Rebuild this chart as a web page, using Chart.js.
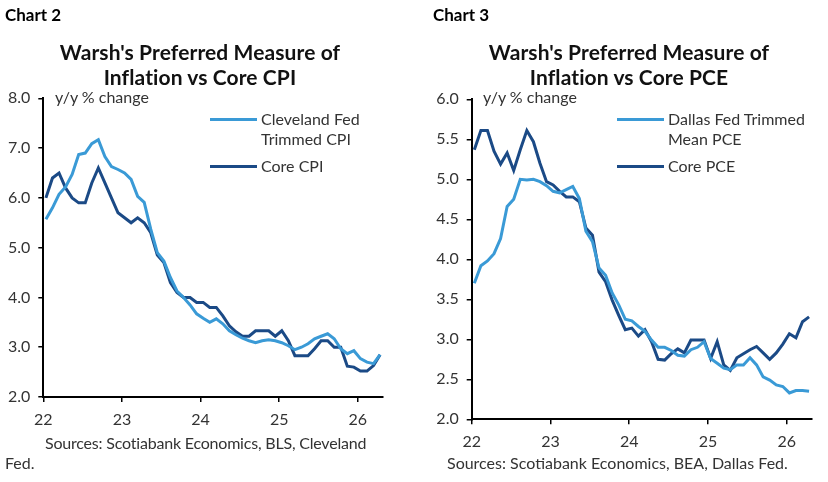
<!DOCTYPE html>
<html><head><meta charset="utf-8">
<script src="https://cdn.jsdelivr.net/npm/chart.js@4"></script>
<style>
html,body{margin:0;padding:0;background:#fff;width:828px;height:482px;overflow:hidden;font-family:Lato,"Noto Sans",sans-serif;color:#262626}
.abs{position:absolute;white-space:nowrap}
.hdr{font-weight:bold;font-size:17px;line-height:17px;color:#000}
.ttl{font-weight:bold;font-size:21px;line-height:25px;text-align:center;color:#111;letter-spacing:0.1px}
.txt{font-size:16px;color:#333}
.leg{font-size:16px;line-height:20px;color:#333}
.sw{position:absolute;height:3px}
canvas{position:absolute;top:0}
</style></head>
<body>
<canvas id="c1" width="414" height="482" style="left:0;width:414px;height:482px"></canvas>
<canvas id="c2" width="414" height="482" style="left:414px;width:414px;height:482px"></canvas>

<div class="abs hdr" style="left:5px;top:6px">Chart 2</div>
<div class="abs hdr" style="left:433px;top:6px">Chart 3</div>
<div class="abs ttl" style="left:0;width:400px;top:39px">Warsh's Preferred Measure of<br>Inflation vs Core CPI</div>
<div class="abs ttl" style="left:429px;width:400px;top:39px">Warsh's Preferred Measure of<br>Inflation vs Core PCE</div>
<div class="abs txt" style="left:55px;top:87px">y/y % change</div>
<div class="abs txt" style="left:483px;top:87px">y/y % change</div>

<div class="sw" style="left:210px;top:118px;width:47px;background:#3a9ad6"></div>
<div class="abs leg" style="left:261px;top:109px">Cleveland Fed<br>Trimmed CPI</div>
<div class="sw" style="left:210px;top:165px;width:47px;background:#1b4a86"></div>
<div class="abs leg" style="left:261px;top:156px">Core CPI</div>

<div class="sw" style="left:617px;top:118px;width:47px;background:#3a9ad6"></div>
<div class="abs leg" style="left:668px;top:109px">Dallas Fed Trimmed<br>Mean PCE</div>
<div class="sw" style="left:617px;top:165px;width:47px;background:#1b4a86"></div>
<div class="abs leg" style="left:668px;top:156px">Core PCE</div>

<div class="abs txt" style="left:45px;top:433px;letter-spacing:-0.2px">Sources: Scotiabank Economics, BLS, Cleveland</div>
<div class="abs txt" style="left:5px;top:453px">Fed.</div>
<div class="abs txt" style="left:447px;top:453px">Sources: Scotiabank Economics, BEA, Dallas Fed.</div>

<script>
// Monthly data, Jan 2022 .. Apr 2026
const clevelandTrimmedCPI = [5.57,5.8,6.07,6.22,6.47,6.87,6.9,7.09,7.17,6.83,6.63,6.57,6.5,6.37,6.03,5.91,5.37,4.9,4.73,4.4,4.13,4.0,3.85,3.67,3.58,3.5,3.57,3.47,3.33,3.25,3.18,3.13,3.09,3.13,3.15,3.13,3.09,3.03,2.95,3.0,3.07,3.17,3.22,3.27,3.17,2.97,2.87,2.93,2.77,2.7,2.67,2.85];
const coreCPI = [6.0,6.4,6.5,6.2,6.0,5.9,5.9,6.3,6.6,6.3,6.0,5.7,5.6,5.5,5.6,5.5,5.3,4.85,4.7,4.3,4.1,4.0,4.0,3.9,3.9,3.8,3.8,3.63,3.43,3.31,3.22,3.22,3.33,3.33,3.33,3.22,3.33,3.13,2.83,2.83,2.83,2.97,3.13,3.13,3.0,3.0,2.62,2.6,2.52,2.52,2.63,2.85];
const dallasTrimmedPCE = [3.7,3.92,3.98,4.07,4.26,4.66,4.75,5.0,4.99,5.0,4.97,4.92,4.85,4.83,4.87,4.91,4.76,4.35,4.22,3.89,3.8,3.58,3.43,3.25,3.23,3.16,3.1,2.99,2.9,2.9,2.86,2.8,2.79,2.87,2.9,2.97,2.76,2.7,2.64,2.62,2.68,2.68,2.77,2.68,2.53,2.49,2.43,2.41,2.33,2.36,2.36,2.35];
const corePCE = [5.37,5.61,5.61,5.35,5.19,5.33,5.11,5.37,5.61,5.47,5.2,4.97,4.93,4.85,4.78,4.78,4.72,4.39,4.3,3.84,3.72,3.49,3.3,3.12,3.14,3.04,3.12,2.97,2.75,2.74,2.82,2.88,2.83,2.99,2.99,2.99,2.76,2.97,2.68,2.61,2.77,2.82,2.87,2.91,2.83,2.75,2.83,2.94,3.07,3.02,3.22,3.28];
const yearLabels = ["22","23","24","25","26"];
const cpiTicks = [2,3,4,5,6,7,8];
const pceTicks = [2.0,2.5,3.0,3.5,4.0,4.5,5.0,5.5,6.0];

const LIGHT = '#3a9ad6', DARK = '#1b4a86';
const FONT = {family:'Lato, "Noto Sans", sans-serif', size:16};
const pts = arr => arr.map((v,i)=>({x:i,y:v}));
const yearTickPos = yearLabels.map((_,k)=>k*12-0.4);

function makeChart(id, light, dark, yTicks, yAxisW, padRight, padTop, xAxisH) {
  new Chart(document.getElementById(id), {
    type:'line',
    data:{datasets:[
      {data:pts(light), borderColor:LIGHT, borderWidth:3, pointRadius:0, tension:0},
      {data:pts(dark), borderColor:DARK, borderWidth:3, pointRadius:0, tension:0}
    ]},
    options:{
      responsive:false, animation:false, events:[],
      layout:{padding:{left:0, right:padRight, top:padTop, bottom:0}},
      plugins:{legend:{display:false}, tooltip:{enabled:false}},
      scales:{
        x:{type:'linear', min:-0.4, max:51.4,
          afterBuildTicks:s=>{s.ticks = yearTickPos.map(v=>({value:v}));},
          afterFit:s=>{s.height = xAxisH;},
          ticks:{autoSkip:false, maxRotation:0, padding:8, color:'#333', font:FONT,
            callback:(v,i)=>yearLabels[i]},
          grid:{drawOnChartArea:false, drawTicks:true, tickLength:5, color:'#000', lineWidth:1.5},
          border:{display:true, color:'#000', width:2}
        },
        y:{min:yTicks[0], max:yTicks[yTicks.length-1],
          afterBuildTicks:s=>{s.ticks = yTicks.map(v=>({value:v}));},
          afterFit:s=>{s.width = yAxisW;},
          ticks:{padding:8, color:'#333', font:FONT, callback:v=>Number(v).toFixed(1)},
          grid:{drawOnChartArea:false, drawTicks:true, tickLength:5, color:'#000', lineWidth:1.5},
          border:{display:true, color:'#000', width:2}
        }
      }
    }
  });
}
makeChart('c1', clevelandTrimmedCPI, coreCPI, cpiTicks, 43.3, 31.3, 98.3, 85);
makeChart('c2', dallasTrimmedPCE, corePCE, pceTicks, 57.7, 16.3, 99.3, 62.7);
</script>
</body></html>
